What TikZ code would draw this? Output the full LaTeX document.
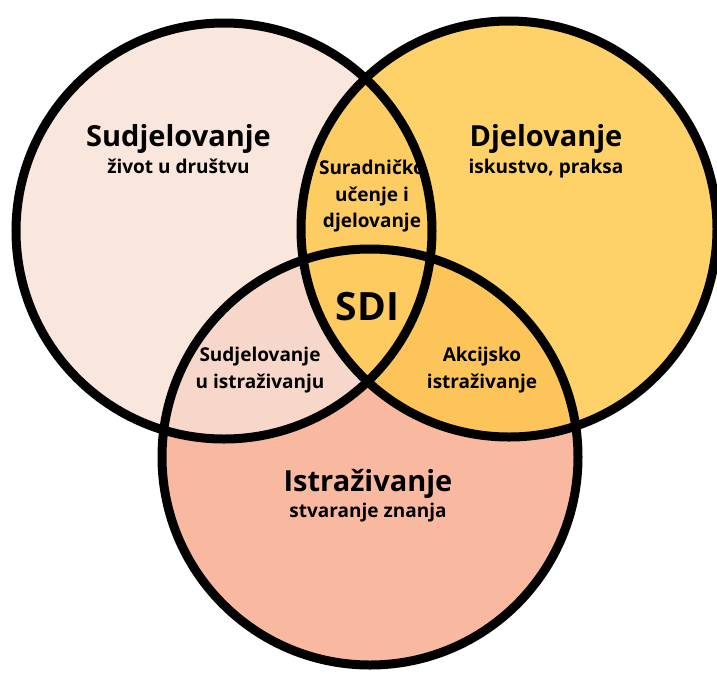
\documentclass[tikz,border=0pt]{standalone}
\usepackage{fontspec}
\setmainfont{Open Sans}
\usetikzlibrary{positioning}

\definecolor{zivot}{HTML}{F9E6DD}
\definecolor{praksa}{HTML}{FED169}
\definecolor{znanje}{HTML}{F9B9A1}
\definecolor{zivotpraksa}{HTML}{FDCD63}
\definecolor{zivotznanje}{HTML}{F7D7C9}
\definecolor{praksaznanje}{HTML}{FDC559}
\definecolor{sredina}{HTML}{FDCB60}

\begin{document}
\begin{tikzpicture}[x=1pt,y=-1pt,
    krug/.style={line width=9pt,draw=black},
    naslov/.style={font=\bfseries\fontsize{29}{32}\selectfont,inner sep=0pt,anchor=base},
    podnaslov/.style={font=\bfseries\fontsize{19}{22}\selectfont,inner sep=0pt,anchor=base},
    presjek/.style={font=\bfseries\fontsize{19}{26.5}\selectfont,align=center,inner sep=0pt}]
  \useasboundingbox (0,0) rectangle (717,673);
  \coordinate (sud) at (224,231);
  \coordinate (dje) at (509,229);
  \coordinate (ist) at (370,457);
  \def\rad{208pt}

  % krugovi
  \fill[zivot] (sud) circle (\rad);
  \fill[praksa] (dje) circle (\rad);
  \fill[znanje] (ist) circle (\rad);

  % presjeci
  \begin{scope}
    \clip (sud) circle (\rad);
    \fill[zivotpraksa] (dje) circle (\rad);
    \fill[zivotznanje] (ist) circle (\rad);
  \end{scope}
  \begin{scope}
    \clip (dje) circle (\rad);
    \fill[praksaznanje] (ist) circle (\rad);
    \clip (sud) circle (\rad);
    \fill[sredina] (ist) circle (\rad);
  \end{scope}

  \draw[krug] (sud) circle (\rad);
  \draw[krug] (dje) circle (\rad);
  \draw[krug] (ist) circle (\rad);

  % tekst
  \node[naslov] (sudj) at (178.5,146) {Sudjelovanje};
  \node[podnaslov] (zivotd) at ([yshift=-27pt]sudj.base) {život u društvu};
  \node[naslov] (djel) at (546,146) {Djelovanje};
  \node[podnaslov] (isk) at ([yshift=-27pt]djel.base) {iskustvo, praksa};
  \node[naslov] (istr) at (368,491) {Istraživanje};
  \node[podnaslov] (stv) at ([yshift=-26pt]istr.base) {stvaranje znanja};

  \node[presjek] (sur) at (372,196) {Suradničko\\učenje i\\djelovanje};
  \node[presjek] (sui) at (260,370) {Sudjelovanje\\u istraživanju};
  \node[presjek] (aki) at (482,370) {Akcijsko\\istraživanje};
  \node[font=\bfseries\fontsize{39}{42}\selectfont,inner sep=0pt,anchor=base] (sdi) at (367.5,320) {SDI};
\end{tikzpicture}
\end{document}
